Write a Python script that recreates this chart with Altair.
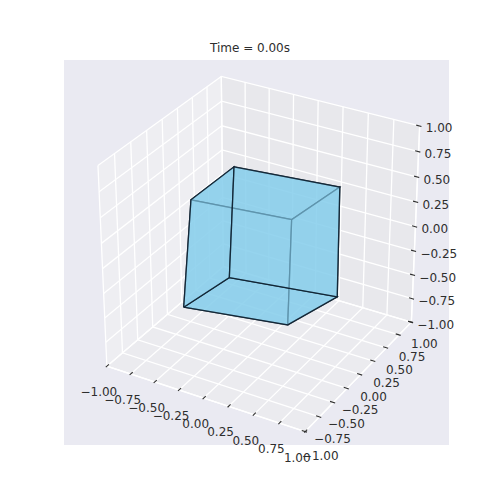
import altair as alt
import numpy as np
import pandas as pd

TITLE = "Time = 0.00s"
TICKS = [-1.0, -0.75, -0.5, -0.25, 0.0, 0.25, 0.5, 0.75, 1.0]
LIM = [-1.0, 1.0]
# the cube's eight corners
# index: 0 ---, 1 +--, 2 ++-, 3 -+-, 4 --+, 5 +-+, 6 +++, 7 -++
CUBE_X = [-0.412, 0.560, 0.520, -0.519, -0.450, 0.492, 0.417, -0.598]
CUBE_Y = [-0.641, -0.527, 0.448, 0.310, -0.429, -0.351, 0.650, 0.540]
CUBE_Z = [-0.399, -0.337, -0.584, -0.623, 0.553, 0.585, 0.407, 0.390]
# faces in paint order
FACES = [[4, 5, 6, 7], [0, 1, 5, 4], [1, 2, 6, 5], [0, 1, 2, 3], [0, 3, 7, 4], [3, 2, 6, 7]]
ELEV = 30.0
AZIM = -60.0
DIST = 10.0
AXES_BOX = [64.0, 449.0, 60.0, 445.0]   # figure px: left, right, top, bottom
FACE = "#eaeaf2"
INK = "#2e2e2e"
CUBE_BLUE = "#87ceeb"

aspect = np.array([1.0, 1.0, 1.0])
aspect = aspect * 1.8294640721620434 * 25 / 24 / np.linalg.norm(aspect)
e, a = np.radians(ELEV), np.radians(AZIM)
w = np.array([np.cos(e) * np.cos(a), np.cos(e) * np.sin(a), np.sin(e)])
eye = 0.5 * aspect + DIST * w
u = np.cross([0, 0, 1.0], w)
u /= np.linalg.norm(u)
v = np.cross(w, u)


def proj(x, y, z):
    p = (np.array([x, y, z]) - LIM[0]) / (LIM[1] - LIM[0]) * aspect - eye
    zv = -p.dot(w)
    X, Y = p.dot(u) / zv, p.dot(v) / zv
    L, Rt, T, B = AXES_BOX
    return (L + (X + 0.095) / 0.185 * (Rt - L), T + (0.09 - Y) / 0.185 * (B - T))


def frame(points, group=0):
    rows = []
    for i, pt in enumerate(points):
        px, py = proj(*pt)
        rows.append({"px": px, "py": py, "id": group, "ord": i})
    return rows


X = alt.X("px:Q", scale=alt.Scale(domain=[8, 492]), axis=None)
Y = alt.Y("py:Q", scale=alt.Scale(domain=[492, 8]), axis=None)


def poly(rows, **kw):
    return alt.Chart(pd.DataFrame(rows)).mark_line(clip=False, interpolate="linear", point=False, **kw).encode(
        x=X, y=Y, detail="id:N", order="ord:Q")


lo, hi = LIM
layers = []

# axes background
bg = pd.DataFrame({"px": [AXES_BOX[0]], "px2": [AXES_BOX[1]], "py": [AXES_BOX[2]], "py2": [AXES_BOX[3]]})
layers.append(alt.Chart(bg).mark_rect(color=FACE).encode(x=X, x2="px2:Q", y=Y, y2="py2:Q"))

# panes
panes = [
    ([(lo, lo, lo), (lo, hi, lo), (lo, hi, hi), (lo, lo, hi), (lo, lo, lo)], 0.95),
    ([(lo, hi, lo), (hi, hi, lo), (hi, hi, hi), (lo, hi, hi), (lo, hi, lo)], 0.90),
    ([(lo, lo, lo), (hi, lo, lo), (hi, hi, lo), (lo, hi, lo), (lo, lo, lo)], 0.925),
]
for pts, g in panes:
    c = "#%02x%02x%02x" % (int(g * 255), int(g * 255), int(g * 255))
    layers.append(poly(frame(pts), fill=c, fillOpacity=0.5, stroke="white", strokeOpacity=0.0))

# grid
grid = []
k = 0
for t in TICKS:
    grid += frame([(t, lo, lo), (t, hi, lo), (t, hi, hi)], k); k += 1
    grid += frame([(hi, t, lo), (lo, t, lo), (lo, t, hi)], k); k += 1
    grid += frame([(hi, hi, t), (lo, hi, t), (lo, lo, t)], k); k += 1
layers.append(poly(grid, stroke="white", strokeWidth=1.3))

# axis lines
edges = []
for k, seg in enumerate([[(lo, lo, lo), (hi, lo, lo)], [(hi, lo, lo), (hi, hi, lo)], [(hi, hi, lo), (hi, hi, hi)]]):
    edges += frame(seg, k)
layers.append(poly(edges, stroke="white", strokeWidth=1.3))

# tick marks
OUT, IN = 0.1 / 6, 0.2 / 6
ticks = []
k = 0
for t in TICKS:
    ticks += frame([(t, lo - OUT, lo), (t, lo + IN, lo)], k); k += 1
    ticks += frame([(hi + OUT, t, lo), (hi - IN, t, lo)], k); k += 1
    ticks += frame([(hi + OUT, hi, t), (hi - IN, hi, t)], k); k += 1
layers.append(poly(ticks, stroke=INK, strokeWidth=1.1))

# tick labels
labels = []
fmt = lambda t: f"{t:.2f}".replace("-", "\u2212")
for t in TICKS:
    px, py = proj(t, lo, lo)
    labels.append({"px": px - 8, "py": py + 26, "txt": fmt(t), "al": "c"})
    px, py = proj(hi, t, lo)
    nudge = 2.0 if t == lo else 0.0
    labels.append({"px": px + 13 + nudge, "py": py + 22 + nudge, "txt": fmt(t), "al": "c"})
    px, py = proj(hi, hi, t)
    labels.append({"px": px + 6, "py": py + 2.5, "txt": fmt(t), "al": "l"})
ldf = pd.DataFrame(labels)
layers.append(alt.Chart(ldf[ldf.al == "c"]).mark_text(font="DejaVu Sans", fontSize=12, color=INK, align="center", baseline="middle").encode(x=X, y=Y, text="txt:N"))
layers.append(alt.Chart(ldf[ldf.al == "l"]).mark_text(font="DejaVu Sans", fontSize=12, color=INK, align="left", baseline="middle").encode(x=X, y=Y, text="txt:N"))

# cube faces, front ones painted first as the reference's edges show
for f in FACES:
    idx = f + f[:1]
    pts = [(CUBE_X[i], CUBE_Y[i], CUBE_Z[i]) for i in idx]
    layers.append(poly(frame(pts), fill=CUBE_BLUE, fillOpacity=0.65, stroke="#0a1c2c", strokeOpacity=0.85, strokeWidth=1.3))

# title
tdf = pd.DataFrame({"px": [250.0], "py": [48.0], "txt": [TITLE]})
layers.append(alt.Chart(tdf).mark_text(font="DejaVu Sans", fontSize=12, color=INK, align="center", baseline="middle").encode(x=X, y=Y, text="txt:N"))

chart = alt.layer(*layers).properties(width=484, height=484, padding=0, autosize=alt.AutoSizeParams(type="none"), background="white").configure_view(stroke=None)
chart.save("out.html", embed_options={"renderer": "svg", "actions": False})
